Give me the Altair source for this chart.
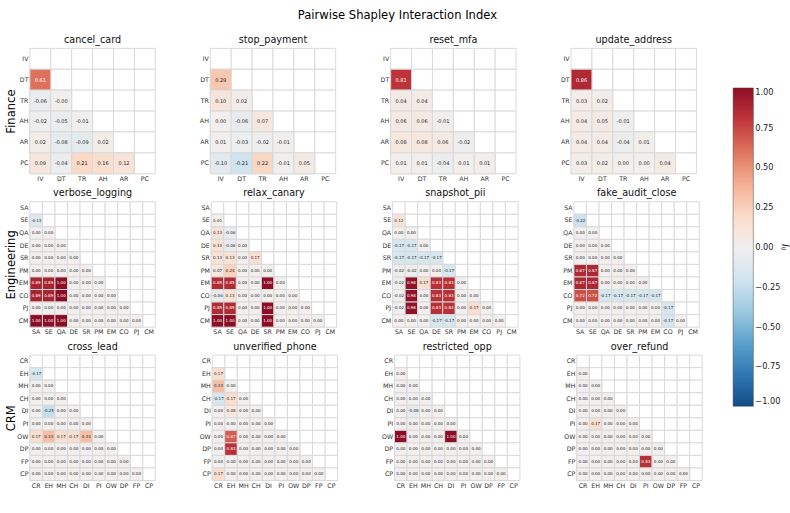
import altair as alt
import pandas as pd

# Feature codes per domain (row order = column order)
FINANCE = ["IV", "DT", "TR", "AH", "AR", "PC"]
ENGINEERING = ["SA", "SE", "QA", "DE", "SR", "PM", "EM", "CO", "PJ", "CM"]
CRM = ["CR", "EH", "MH", "CH", "DI", "PI", "OW", "DP", "FP", "CP"]

# Lower-triangle interaction values: row k holds I(feature k+1, feature j) for j <= k
cancel_card = [
    [0.61],
    [-0.06, -0.004],
    [-0.02, -0.05, -0.01],
    [0.02, -0.08, -0.09, 0.02],
    [0.09, -0.04, 0.21, 0.16, 0.12],
]
stop_payment = [
    [0.29],
    [0.10, 0.02],
    [0.00, -0.06, 0.07],
    [0.01, -0.03, -0.02, -0.01],
    [-0.10, -0.21, 0.22, -0.01, 0.05],
]
reset_mfa = [
    [0.81],
    [0.04, 0.04],
    [0.06, 0.06, -0.01],
    [0.08, 0.08, 0.06, -0.02],
    [0.01, 0.01, -0.04, 0.01, 0.01],
]
update_address = [
    [0.86],
    [0.03, 0.02],
    [0.04, 0.05, -0.01],
    [0.04, 0.04, -0.04, 0.01],
    [0.03, 0.02, 0.00, 0.00, 0.04],
]
verbose_logging = [
    [-0.13],
    [0.00, 0.00],
    [0.00, 0.00, 0.00],
    [0.00, 0.00, 0.00, 0.00],
    [0.00, 0.00, 0.00, 0.00, 0.00],
    [0.89, 0.89, 1.00, 0.00, 0.00, 0.00],
    [0.89, 0.89, 1.00, 0.00, 0.00, 0.00, 0.00],
    [0.00, 0.00, 0.00, 0.00, 0.00, 0.00, 0.00, 0.00],
    [1.00, 1.00, 1.00, 0.00, 0.00, 0.00, 0.00, 0.00, 0.00],
]
relax_canary = [
    [0.01],
    [0.13, -0.06],
    [0.13, -0.06, 0.00],
    [0.13, 0.13, 0.00, 0.17],
    [0.07, 0.24, 0.00, 0.00, 0.00],
    [0.85, 0.85, 0.00, 0.00, 1.00, 0.00],
    [-0.06, 0.13, 0.00, 0.00, 0.00, 0.00, 0.00],
    [0.85, 0.85, 0.00, 0.00, 1.00, 0.00, 0.00, 0.00],
    [1.00, 1.00, 0.00, 0.00, 1.00, 0.00, 0.00, 0.00, 0.00],
]
snapshot_pii = [
    [0.12],
    [0.00, 0.00],
    [-0.17, -0.17, 0.00],
    [-0.17, -0.17, -0.17, -0.17],
    [-0.02, -0.02, 0.00, 0.00, -0.17],
    [-0.02, 0.98, 0.17, 0.83, 0.83, 0.00],
    [-0.02, 0.98, 0.00, 0.83, 0.83, 0.00, 0.00],
    [-0.02, 0.98, 0.00, 0.83, 0.83, 0.00, 0.17, 0.00],
    [0.00, 0.00, 0.00, -0.17, -0.17, 0.00, 0.00, 0.00, 0.00],
]
fake_audit_close = [
    [-0.22],
    [0.00, 0.00],
    [0.00, 0.00, 0.00],
    [0.00, 0.00, 0.00, 0.00],
    [0.87, 0.87, 0.00, 0.00, 0.00],
    [0.87, 0.87, 0.00, 0.00, 0.00, 0.00],
    [0.72, 0.72, -0.17, -0.17, -0.17, -0.17, -0.17],
    [0.00, 0.00, 0.00, 0.00, 0.00, 0.00, 0.00, -0.17],
    [0.00, 0.00, 0.00, 0.00, 0.00, 0.00, 0.00, -0.17, 0.00],
]
cross_lead = [
    [-0.17],
    [0.00, 0.00],
    [0.00, 0.00, 0.00],
    [0.00, -0.25, 0.00, 0.00],
    [0.00, 0.00, 0.00, 0.00, 0.00],
    [0.17, 0.33, 0.17, 0.17, 0.33, 0.00],
    [0.00, 0.00, 0.00, 0.00, 0.00, 0.00, 0.00],
    [0.00, 0.00, 0.00, 0.00, 0.00, 0.00, 0.00, 0.00],
    [0.00, 0.00, 0.00, 0.00, 0.00, 0.00, 0.00, 0.00, 0.00],
]
unverified_phone = [
    [0.17],
    [0.33, 0.00],
    [-0.17, 0.17, 0.00],
    [0.00, 0.08, 0.00, 0.00],
    [0.00, 0.00, 0.00, 0.00, 0.00],
    [0.00, 0.67, 0.00, 0.00, 0.00, 0.00],
    [0.00, 0.83, 0.00, 0.00, 0.00, 0.00, 0.00],
    [0.00, 0.00, 0.00, 0.00, 0.00, 0.00, 0.00, 0.00],
    [0.17, 0.00, 0.00, 0.00, 0.00, 0.00, 0.00, 0.00, 0.00],
]
restricted_opp = [
    [0.00],
    [0.00, 0.00],
    [0.00, 0.00, 0.00],
    [0.00, -0.08, 0.00, 0.00],
    [0.00, 0.00, 0.00, 0.00, 0.00],
    [1.00, 0.00, 0.00, 0.00, 1.00, 0.00],
    [0.00, 0.00, 0.00, 0.00, 0.00, 0.00, 0.00],
    [0.00, 0.00, 0.00, 0.00, 0.00, 0.00, 0.00, 0.00],
    [0.00, 0.00, 0.00, 0.00, 0.00, 0.00, 0.00, 0.00, 0.00],
]
over_refund = [
    [0.00],
    [0.00, 0.00],
    [0.00, 0.00, 0.00],
    [0.00, 0.00, 0.00, 0.00],
    [0.00, 0.17, 0.00, 0.00, 0.00],
    [0.00, 0.00, 0.00, 0.00, 0.00, 0.00],
    [0.00, 0.00, 0.00, 0.00, 0.00, 0.00, 0.00],
    [0.00, 0.00, 0.00, 0.00, 0.00, 0.83, 0.00, 0.00],
    [0.00, 0.00, 0.00, 0.00, 0.00, 0.00, 0.00, 0.00, 0.00],
]

GROUPS = [
    ("Finance", FINANCE, [("cancel_card", cancel_card), ("stop_payment", stop_payment),
                          ("reset_mfa", reset_mfa), ("update_address", update_address)]),
    ("Engineering", ENGINEERING, [("verbose_logging", verbose_logging), ("relax_canary", relax_canary),
                                  ("snapshot_pii", snapshot_pii), ("fake_audit_close", fake_audit_close)]),
    ("CRM", CRM, [("cross_lead", cross_lead), ("unverified_phone", unverified_phone),
                  ("restricted_opp", restricted_opp), ("over_refund", over_refund)]),
]

LEGEND_TICKS = [1.0, 0.75, 0.5, 0.25, 0.0, -0.25, -0.5, -0.75, -1.0]

PANEL = 130
GRID = "#d9d9d9"
FONT = "DejaVu Sans"


def panel(name, feats, vals, row_title, font_cell):
    grid_df = pd.DataFrame([{"r": r, "c": c} for r in feats for c in feats])
    rows = []
    for i in range(1, len(feats)):
        for j in range(i):
            v = vals[i - 1][j]
            rows.append({"r": feats[i], "c": feats[j], "v": v, "label": f"{v:.2f}"})
    tri_df = pd.DataFrame(rows)

    x = alt.X("c:N", scale=alt.Scale(domain=feats, paddingInner=0, paddingOuter=0),
              axis=alt.Axis(title=None, labelAngle=0, minExtent=9, maxExtent=9))
    y_axis = alt.Axis(title=row_title, minExtent=11, maxExtent=11, titlePadding=2,
                      titleFontSize=12, titleFontWeight="normal", titleColor="#000")
    if row_title is None:
        y_axis = alt.Axis(title=None, minExtent=11, maxExtent=11)
    y = alt.Y("r:N", scale=alt.Scale(domain=feats, paddingInner=0, paddingOuter=0), axis=y_axis)

    background = alt.Chart(grid_df).mark_rect(fill="white", stroke=GRID, strokeWidth=1).encode(x=x, y=y)
    heat = alt.Chart(tri_df).mark_rect(stroke=GRID, strokeWidth=1).encode(
        x=x, y=y,
        color=alt.Color(
            "v:Q",
            scale=alt.Scale(scheme="redblue", reverse=True, domain=[-1, 1]),
            legend=alt.Legend(
                title="Iᵢⱼ", orient="none", legendX=729, legendY=41,
                direction="vertical", gradientLength=330, gradientThickness=21,
                values=LEGEND_TICKS, format=".2f", labelFontSize=8.5, labelColor="#222",
                titleOrient="right", titleAnchor="middle", titleFontSize=10, titlePadding=0,
                titleFontWeight="normal", titleFontStyle="italic", titleColor="#000",
                gradientStrokeColor="#444", gradientStrokeWidth=0.5,
            ),
        ),
    )
    text = alt.Chart(tri_df).mark_text(fontSize=font_cell, font=FONT).encode(
        x=x, y=y, text="label:N",
        color=alt.condition("abs(datum.v) > 0.5", alt.value("white"), alt.value("#262626")),
    )
    return alt.layer(background, heat, text).properties(
        width=PANEL, height=PANEL,
        title=alt.TitleParams(name, fontSize=10, fontWeight="normal", color="#111",
                              font=FONT, offset=3, anchor="middle"),
    )


rows = []
for group, feats, scenarios in GROUPS:
    cell_font = 5.2 if len(feats) <= 6 else 4.2
    charts = [panel(n, feats, v, group if k == 0 else None, cell_font) for k, (n, v) in enumerate(scenarios)]
    rows.append(alt.hconcat(*charts, spacing=44))

chart = alt.vconcat(*rows, spacing=6).properties(
    title=alt.TitleParams("Pairwise Shapley Interaction Index", fontSize=12, fontWeight="normal",
                          color="#000", font=FONT, anchor="middle", offset=14),
    padding={"left": 5, "top": 0, "right": 0, "bottom": 0},
).configure_view(stroke=None).configure_axis(
    labelFontSize=6.5, labelColor="#333", labelFont=FONT, titleFont=FONT,
    ticks=False, domain=False, grid=False, labelPadding=2,
).configure_legend(labelFont=FONT, titleFont=FONT)

chart.save("out.html", embed_options={"renderer": "svg", "actions": False})
